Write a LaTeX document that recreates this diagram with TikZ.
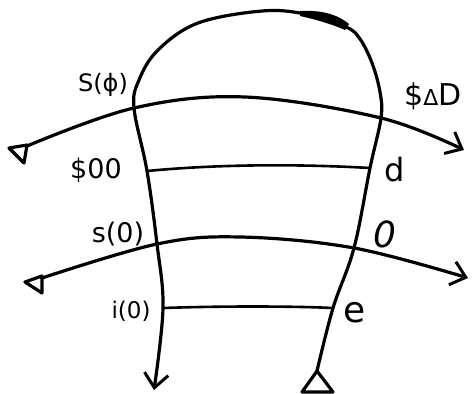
\documentclass[tikz,border=0pt]{standalone}
\usepackage{fontspec}
\newfontfamily\handfont{DejaVu Sans}
\usetikzlibrary{arrows.meta}
\tikzset{
  ink/.style={line width=3.2pt, line cap=round, line join=round},
  rung/.style={line width=2.6pt, line cap=round},
  barb/.style={-{Straight Barb[length=14pt,width=24pt,line width=3pt]}},
  lbl/.style={inner sep=0pt},
}
\newcommand{\fsz}[1]{\handfont\fontsize{#1}{#1}\selectfont}
\begin{document}
\begin{tikzpicture}[x=1pt,y=-1pt]
\useasboundingbox (0,0) rectangle (472,394);
% crossing / rung coordinates
\coordinate (Lup) at (134,108);
\coordinate (Rup) at (381,118);
\coordinate (Lr1) at (147,171);
\coordinate (Rr1) at (370,168);
\coordinate (Llo) at (157,244);
\coordinate (Rlo) at (354,248);
\coordinate (Lr2) at (163,308);
\coordinate (Rr2) at (333,308);
\coordinate (loopstart) at (317,371);
\coordinate (loopend) at (154,390);
\coordinate (ustart) at (27,146);
\coordinate (uend) at (464,150);
\coordinate (lstart) at (42,278);
\coordinate (lend) at (468,278);
% big loop
\draw[ink,barb] plot[smooth,tension=0.6] coordinates {
 (loopstart) (Rr2) (Rlo) (Rr1) (Rup) (380,92) (372,63) (360,39) (346,27) (305,14) (262,11) (198,23) (158,50) (139,80) (Lup)
 (Lr1) (Llo) (Lr2) (loopend)};
\fill (300,11) .. controls (318,10) and (336,13) .. (349,24) -- (345,30) .. controls (334,25) and (318,20) .. (300,16) -- cycle;
% upper arc
\draw[ink,barb] plot[smooth,tension=0.6] coordinates {
 (ustart) (Lup) (245,97) (Rup) (uend)};
% lower arc
\draw[ink,barb] plot[smooth,tension=0.6] coordinates {
 (lstart) (Llo) (240,237) (Rlo) (lend)};
% rungs
\draw[rung] (Lr1) .. controls (220,164) and (300,164) .. (Rr1);
\draw[rung] (Lr2) .. controls (220,306) and (290,306) .. (Rr2);
% tail triangles
\draw[ink] (9,148) -- (27,145) -- (24,163) -- cycle;
\draw[ink] (25,282) -- (42,276) -- (42,293) -- cycle;
\draw[ink] (317,371) -- (302,392) -- (333,392) -- cycle;
% labels
\node[lbl, font=\fsz{24}] (sphi) at (103,85) {S(ϕ)};
\node[lbl, font=\fsz{30}] (dD) at (433,96) {\${\fontsize{22}{22}\selectfont Δ}D};
\node[lbl, font=\fsz{27}] (s00) at (96,170) {\$00};
\node[lbl, font=\fsz{27}] (s0) at (118,234) {s(0)};
\node[lbl, font=\fsz{23}] (i0) at (131,311) {i(0)};
\node[lbl, font=\fsz{32}] (d) at (395,170) {d};
\node[lbl, font=\fsz{36}\itshape] (zero) at (385,234) {0};
\node[lbl, font=\fsz{36}] (e) at (355,313) {e};
\end{tikzpicture}
\end{document}
